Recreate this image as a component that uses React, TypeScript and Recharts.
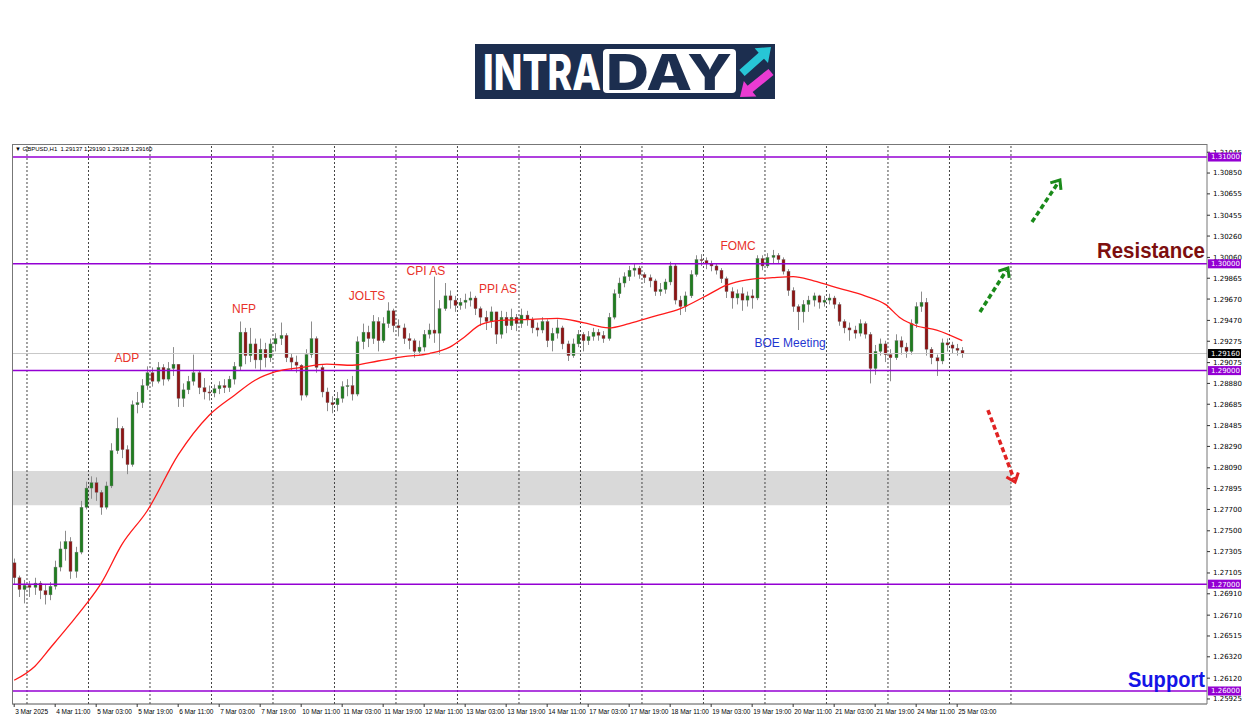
import React from "react";
import {
  ComposedChart,
  Bar,
  Line,
  XAxis,
  YAxis,
  ReferenceLine,
  ReferenceArea,
  ReferenceDot,
} from "recharts";

// GBPUSD H1 shown as 2-hour candles. hour 0 = 4 Mar 00:00, weekends skipped
const FIRST_OPEN = 1.272;

const closes = [
  1.2706, 1.2695, 1.2699, 1.2697, 1.2701, 1.2694, 1.269, 1.2698, 1.2716, 1.2733, 1.274, 1.2712, 1.273, 1.2772, 1.279,
  1.2795, 1.2786, 1.2772, 1.2792, 1.2825, 1.2846, 1.2826, 1.2812, 1.2868, 1.287, 1.2886, 1.2898, 1.289, 1.2903, 1.2892, 1.2902, 1.2906, 1.2874,
  1.2882, 1.289, 1.2898, 1.2884, 1.288, 1.2879, 1.2883, 1.2886, 1.2884, 1.2892, 1.2904, 1.2936, 1.2914, 1.2925, 1.291, 1.292, 1.2912, 1.2925, 1.293, 1.2933, 1.2912, 1.2908, 1.2905, 1.2877, 1.2915, 1.293,
  1.2903, 1.288, 1.287, 1.2868, 1.2874, 1.2885, 1.2886, 1.2878, 1.2927, 1.2936, 1.293, 1.2946, 1.2928, 1.2944, 1.2956, 1.2942, 1.294, 1.293, 1.2928, 1.2918, 1.2922, 1.2934, 1.2938, 1.2935, 1.2958,
  1.297, 1.2966, 1.2961, 1.2964, 1.2966, 1.2968, 1.2958, 1.295, 1.2946, 1.2955, 1.2934, 1.295, 1.2942, 1.295, 1.2944, 1.2952, 1.2948, 1.294, 1.2938, 1.2946, 1.2928, 1.2935, 1.294, 1.2925, 1.2914, 1.2925, 1.2934,
  1.2928, 1.2932, 1.2936, 1.2933, 1.293, 1.295, 1.2972, 1.2982, 1.2988, 1.2994, 1.2996, 1.299, 1.2987, 1.2984, 1.2974, 1.2976, 1.2983, 1.2998, 1.2966, 1.296,
  1.297, 1.299, 1.3004, 1.3003, 1.3, 1.2998, 1.2994, 1.2986, 1.2974, 1.2968, 1.2972, 1.2966, 1.297, 1.2968, 1.3005, 1.2998, 1.3006, 1.3008, 1.3004, 1.2993, 1.2975, 1.296, 1.2955, 1.2962, 1.2966,
  1.297, 1.2964, 1.2966, 1.2968, 1.2962, 1.2946, 1.294, 1.2938, 1.2935, 1.2944, 1.2934, 1.2902, 1.2918, 1.2925, 1.2915, 1.2912, 1.2928, 1.2922, 1.2918, 1.2944, 1.296, 1.2964, 1.292, 1.2912, 1.2909, 1.2926, 1.2924, 1.2921, 1.2919, 1.2916,
];

const highs = [
  1.2724, 1.2708, 1.2704, 1.2703, 1.2706, 1.2703, 1.27, 1.2702, 1.2722, 1.274, 1.275, 1.2744, 1.2735, 1.2778, 1.2796,
  1.2801, 1.28, 1.2788, 1.2796, 1.2832, 1.2856, 1.2848, 1.283, 1.2872, 1.288, 1.2892, 1.2904, 1.2903, 1.2908, 1.2906, 1.2908, 1.2922, 1.2906,
  1.2888, 1.2895, 1.2915, 1.29, 1.2893, 1.2886, 1.2887, 1.289, 1.2892, 1.2895, 1.2908, 1.2946, 1.294, 1.294, 1.293, 1.293, 1.2926, 1.293, 1.2935, 1.2945, 1.2935, 1.2916, 1.2914, 1.2906, 1.292, 1.2946,
  1.2932, 1.2905, 1.2884, 1.2876, 1.288, 1.289, 1.2892, 1.2895, 1.2932, 1.2944, 1.2942, 1.2952, 1.295, 1.295, 1.2964, 1.2958, 1.2948, 1.2944, 1.2935, 1.293, 1.2928, 1.2938, 1.2944, 1.2988, 1.2966,
  1.2982, 1.2975, 1.297, 1.2968, 1.2972, 1.2974, 1.297, 1.296, 1.2956, 1.296, 1.2955, 1.2956, 1.2955, 1.2958, 1.2953, 1.2958, 1.2956, 1.295, 1.2945, 1.295, 1.2948, 1.294, 1.2948, 1.2942, 1.2928, 1.293, 1.2938,
  1.2936, 1.2937, 1.294, 1.2939, 1.2937, 1.2954, 1.2976, 1.2987, 1.2992, 1.2998, 1.3, 1.2998, 1.2992, 1.299, 1.2986, 1.2982, 1.2986, 1.3002, 1.3, 1.297,
  1.2974, 1.2994, 1.3008, 1.3009, 1.3006, 1.3003, 1.3, 1.2996, 1.2988, 1.2978, 1.2976, 1.2978, 1.2974, 1.2976, 1.3008, 1.3008, 1.301, 1.3013, 1.301, 1.3006, 1.2995, 1.2978, 1.2962, 1.2966, 1.297,
  1.2973, 1.2971, 1.297, 1.2972, 1.297, 1.2964, 1.2948, 1.2945, 1.2942, 1.2948, 1.2946, 1.2936, 1.2924, 1.293, 1.2928, 1.292, 1.2934, 1.2932, 1.2926, 1.2948, 1.2964, 1.2974, 1.2968, 1.2922, 1.2915, 1.293, 1.293, 1.2927, 1.2925, 1.2922,
];

const lows = [
  1.27, 1.2688, 1.2682, 1.2688, 1.269, 1.2686, 1.2681, 1.2685, 1.2695, 1.2712, 1.2722, 1.2705, 1.2706, 1.2728, 1.277,
  1.278, 1.2778, 1.2765, 1.277, 1.279, 1.2822, 1.2818, 1.2803, 1.281, 1.286, 1.2865, 1.2882, 1.2885, 1.2888, 1.2886, 1.289, 1.2895, 1.2866,
  1.2866, 1.2878, 1.2886, 1.2878, 1.2873, 1.2872, 1.2875, 1.2878, 1.2879, 1.288, 1.2887, 1.29, 1.2906, 1.2908, 1.2902, 1.29, 1.2903, 1.2908, 1.2918, 1.2924, 1.2908, 1.29, 1.2898, 1.2872, 1.2875, 1.2912,
  1.2898, 1.2875, 1.2862, 1.286, 1.2862, 1.287, 1.2876, 1.2872, 1.2876, 1.292, 1.2922, 1.2925, 1.2918, 1.2926, 1.294, 1.2936, 1.2932, 1.2925, 1.292, 1.2912, 1.2915, 1.2918, 1.293, 1.2926, 1.2915,
  1.2956, 1.2958, 1.2955, 1.2957, 1.2958, 1.296, 1.2952, 1.2942, 1.2938, 1.294, 1.2925, 1.293, 1.2935, 1.2938, 1.2937, 1.294, 1.2942, 1.2935, 1.2932, 1.2935, 1.2922, 1.2918, 1.293, 1.292, 1.2909, 1.2912, 1.2922,
  1.2918, 1.2924, 1.2928, 1.2928, 1.2926, 1.2928, 1.2948, 1.2968, 1.2978, 1.2984, 1.2988, 1.2986, 1.2982, 1.2978, 1.297, 1.297, 1.2972, 1.298, 1.2962, 1.2952,
  1.2955, 1.2968, 1.2988, 1.2998, 1.2995, 1.2993, 1.299, 1.2982, 1.2968, 1.2958, 1.2962, 1.2956, 1.296, 1.2958, 1.2966, 1.2994, 1.2996, 1.3, 1.3, 1.299, 1.297, 1.2955, 1.2938, 1.2945, 1.2955,
  1.296, 1.2958, 1.296, 1.2962, 1.2958, 1.2942, 1.2935, 1.2928, 1.293, 1.2932, 1.293, 1.2888, 1.2896, 1.2914, 1.2908, 1.289, 1.291, 1.2915, 1.2912, 1.2915, 1.294, 1.2955, 1.2914, 1.2906, 1.2895, 1.2906, 1.2918, 1.2916, 1.2914, 1.2912,
];

// red moving average, read at a few points
const maHours = [-5, 3, 9, 17, 23, 29, 37, 47, 59, 71, 81, 89, 97, 107, 117, 127, 137, 147, 157, 165, 171, 177, 185, 197, 207, 217, 227, 235, 245, 255, 265, 273, 281, 291, 299, 307, 317, 327, 335, 341, 347, 355, 365];
const maValues = [
  1.261, 1.2623, 1.264, 1.2663, 1.2681, 1.2701, 1.2737, 1.2769, 1.2821, 1.2858, 1.2877, 1.2891, 1.2899, 1.2903, 1.2906, 1.2905, 1.2909, 1.2913, 1.2916, 1.2922, 1.2932, 1.2943,
  1.2947, 1.2948, 1.2949, 1.2945, 1.294, 1.2944, 1.2951, 1.2958, 1.297, 1.298, 1.2985, 1.2987, 1.2988, 1.2984, 1.2977, 1.297, 1.2962, 1.2949, 1.2942, 1.2938, 1.2928,
];

const dayStarts = [0, 24, 48, 72, 96, 120, 144, 168, 192, 216, 240, 264, 288, 312, 336, 360, 384];
const tickHours = [-5, 11, 27, 43, 59, 75, 91, 107, 123, 139, 155, 171, 187, 203, 219, 235, 251, 267, 283, 299, 315, 331, 347, 363];
const tickLabels = [
  "3 Mar 2025", "4 Mar 11:00", "5 Mar 03:00", "5 Mar 19:00", "6 Mar 11:00", "7 Mar 03:00", "7 Mar 19:00", "10 Mar 11:00",
  "11 Mar 03:00", "11 Mar 19:00", "12 Mar 11:00", "13 Mar 03:00", "13 Mar 19:00", "14 Mar 11:00", "17 Mar 03:00", "17 Mar 19:00",
  "18 Mar 11:00", "19 Mar 03:00", "19 Mar 19:00", "20 Mar 11:00", "21 Mar 03:00", "21 Mar 19:00", "24 Mar 11:00", "25 Mar 03:00",
];
const priceTicks = [
  1.31045, 1.3085, 1.30655, 1.30455, 1.3026, 1.3006, 1.29865, 1.2967, 1.2947, 1.29275, 1.29075, 1.2888, 1.28685, 1.28485, 1.2829,
  1.2809, 1.27895, 1.277, 1.275, 1.27305, 1.27105, 1.2691, 1.2671, 1.26515, 1.2632, 1.2612, 1.25925,
  1.31, 1.3, 1.29, 1.27, 1.26, 1.2916,
];
const levels = [1.31, 1.3, 1.29, 1.27, 1.26];
const lastPrice = 1.2916;
const zoneLow = 1.2774;
const zoneHigh = 1.2806;

const events = [
  { text: "ADP", h: 39, price: 1.29118, color: "#e8322a" },
  { text: "NFP", h: 84.7, price: 1.29577, color: "#e8322a" },
  { text: "JOLTS", h: 132.7, price: 1.29699, color: "#e8322a" },
  { text: "CPI AS", h: 155.7, price: 1.29933, color: "#e8322a" },
  { text: "PPI AS", h: 183.8, price: 1.29764, color: "#e8322a" },
  { text: "FOMC", h: 277.5, price: 1.30167, color: "#e8322a" },
  { text: "BOE Meeting", h: 297.8, price: 1.29258, color: "#1f36d0" },
];

const arrows = [
  { from: [371.9, 1.29549], to: [382.8, 1.29961], color: "#1a8a1a" },
  { from: [392.2, 1.30391], to: [403.1, 1.30785], color: "#1a8a1a" },
  { from: [375.0, 1.28631], to: [385.6, 1.27957], color: "#e02222" },
];

const X_DOMAIN = [-5.85, 460.5];
const Y_DOMAIN = [1.25878, 1.31122];
const PLOT_LEFT = 12;
const PLOT_TOP = 144;
const PLOT_RIGHT = 1207;
const PLOT_BOTTOM = 704;

const rows = closes.map((c, i) => {
  const h = -5 + 2 * i;
  const k = maHours.indexOf(h);
  return {
    h,
    open: i === 0 ? FIRST_OPEN : closes[i - 1],
    close: c,
    high: highs[i],
    low: lows[i],
    ma: k >= 0 ? maValues[k] : null,
  };
});

const Candle = (props: any) => {
  const { x, y, width, height, payload } = props;
  if (!payload) return null;
  const { open, close, high, low } = payload;
  const top = Math.min(y, y + height);
  const span = Math.abs(height);
  const k = span / (high - low || 1e-9);
  const bTop = top + (high - Math.max(open, close)) * k;
  const bBot = top + (high - Math.min(open, close)) * k;
  const cx = Math.round(x + width / 2) + 0.5;
  const up = close >= open;
  return (
    <g>
      <line x1={cx} x2={cx} y1={top} y2={top + span} stroke="#8c8c8c" strokeWidth={1} />
      <rect
        x={cx - 1.5}
        y={bTop}
        width={3}
        height={Math.max(1, bBot - bTop)}
        fill={up ? "#1f7d1f" : "#8e1414"}
        stroke="#777"
        strokeWidth={0.4}
      />
    </g>
  );
};

const XTick = (props: any) => {
  const { x, payload } = props;
  const label = tickLabels[tickHours.indexOf(payload.value)];
  return (
    <g>
      <line x1={x} x2={x} y1={PLOT_BOTTOM} y2={PLOT_BOTTOM + 3} stroke="#333" />
      <text x={x + 1} y={PLOT_BOTTOM + 10} fontSize={6.5} fontFamily="Liberation Sans, Arial" fill="#000" textAnchor="start">
        {label}
      </text>
    </g>
  );
};

const YTick = (props: any) => {
  const { y, payload } = props;
  const v: number = payload.value;
  const label = v.toFixed(5);
  const isLast = label === lastPrice.toFixed(5);
  const isLevel = levels.some((l) => l.toFixed(5) === label);
  if (isLast || isLevel) {
    return (
      <g>
        <rect x={PLOT_RIGHT + 1} y={y - 4.5} width={33} height={9} fill={isLast ? "#000" : "#9400d3"} />
        <text x={PLOT_RIGHT + 4} y={y} dy="0.35em" fontSize={7} fontFamily="DejaVu Sans" fill="#fff">
          {label}
        </text>
      </g>
    );
  }
  return (
    <g>
      <line x1={PLOT_RIGHT} x2={PLOT_RIGHT + 3} y1={y} y2={y} stroke="#333" />
      <text x={PLOT_RIGHT + 6} y={y} dy="0.35em" fontSize={7} fontFamily="DejaVu Sans" fill="#000">
        {label}
      </text>
    </g>
  );
};

const textLabel =
  (text: string, color: string, size: number, weight: string | number, anchor: string, len?: number) =>
  (props: any) => {
    const vb = props.viewBox || {};
    const x = (vb.x ?? 0) + (vb.width ?? 0) / 2;
    const y = (vb.y ?? 0) + (vb.height ?? 0) / 2;
    return (
      <text
        x={x}
        y={y}
        dy="0.35em"
        textAnchor={anchor}
        fill={color}
        fontSize={size}
        fontWeight={weight}
        fontFamily="Liberation Sans, Arial, sans-serif"
        textLength={len}
        lengthAdjust={len ? "spacingAndGlyphs" : undefined}
      >
        {text}
      </text>
    );
  };

const arrowShape = (color: string) => (p: any) => {
  const { x1, y1, x2, y2 } = p;
  if ([x1, y1, x2, y2].some((v) => typeof v !== "number")) return null;
  const ang = Math.atan2(y2 - y1, x2 - x1);
  const hl = 10;
  const a1 = ang + Math.PI * 0.78;
  const a2 = ang - Math.PI * 0.78;
  return (
    <g>
      <line
        x1={x1}
        y1={y1}
        x2={x2 - Math.cos(ang) * 3}
        y2={y2 - Math.sin(ang) * 3}
        stroke={color}
        strokeWidth={3.5}
        strokeDasharray="5 3"
      />
      <polyline
        points={`${x2 + hl * Math.cos(a1)},${y2 + hl * Math.sin(a1)} ${x2},${y2} ${x2 + hl * Math.cos(a2)},${y2 + hl * Math.sin(a2)}`}
        fill="none"
        stroke={color}
        strokeWidth={3}
      />
    </g>
  );
};

function arrowPts(tx: number, ty: number, hx: number, hy: number, sw: number, hw: number, hl: number) {
  const dx = hx - tx;
  const dy = hy - ty;
  const L = Math.hypot(dx, dy);
  const ux = dx / L;
  const uy = dy / L;
  const px = -uy;
  const py = ux;
  const bx = hx - ux * hl;
  const by = hy - uy * hl;
  const pts = [
    [tx + (px * sw) / 2, ty + (py * sw) / 2],
    [bx + (px * sw) / 2, by + (py * sw) / 2],
    [bx + (px * hw) / 2, by + (py * hw) / 2],
    [hx, hy],
    [bx - (px * hw) / 2, by - (py * hw) / 2],
    [bx - (px * sw) / 2, by - (py * sw) / 2],
    [tx - (px * sw) / 2, ty - (py * sw) / 2],
  ];
  return pts.map((q) => q.join(",")).join(" ");
}

// logo drawn 12px lower inside a taller svg so the glyph boxes stay inside
function Logo() {
  const navy = "#1c2e4f";
  const o = 12;
  return (
    <svg style={{ position: "absolute", left: 475, top: 44 - o }} width={300} height={55 + 2 * o}>
      <rect y={o} width={300} height={55} fill={navy} />
      <text
        transform={`translate(8,${46 + o}) scale(1,1.27)`}
        fill="#fff"
        fontFamily="Inter, sans-serif"
        fontWeight={800}
        fontSize={39}
        textLength={118}
        lengthAdjust="spacingAndGlyphs"
      >
        INTRA
      </text>
      <rect x={128} y={5 + o} width={133} height={44} rx={4} fill="#fff" />
      <text
        transform={`translate(131,${46 + o}) scale(1,1.27)`}
        fill={navy}
        fontFamily="Inter, sans-serif"
        fontWeight={800}
        fontSize={39}
        textLength={126}
        lengthAdjust="spacingAndGlyphs"
      >
        DAY
      </text>
      <polygon points={arrowPts(267, 29 + o, 296, 3 + o, 8, 20, 13)} fill="#27c6d6" />
      <polygon points={arrowPts(296, 28 + o, 265, 53 + o, 8, 20, 13)} fill="#ea3bd3" />
    </svg>
  );
}

export default function App() {
  return (
    <div style={{ position: "relative", width: 1250, height: 716, background: "#fff", overflow: "hidden" }}>
      <style>{"body{margin:0}"}</style>
      <Logo />
      <ComposedChart
        width={1250}
        height={716}
        data={rows}
        margin={{ top: PLOT_TOP, right: 0, bottom: 0, left: PLOT_LEFT }}
        style={{ position: "absolute", left: 0, top: 0 }}
      >
        <XAxis
          dataKey="h"
          type="number"
          domain={X_DOMAIN}
          ticks={tickHours}
          interval={0}
          height={12}
          tick={<XTick />}
          tickLine={false}
          axisLine={{ stroke: "#555" }}
          allowDataOverflow
        />
        <YAxis
          orientation="right"
          type="number"
          domain={Y_DOMAIN}
          ticks={priceTicks}
          interval={0}
          width={43}
          tick={<YTick />}
          tickLine={false}
          axisLine={{ stroke: "#777" }}
          allowDataOverflow
        />
        <ReferenceArea x1={X_DOMAIN[0]} x2={384} y1={zoneLow} y2={zoneHigh} fill="#d9d9d9" fillOpacity={1} stroke="none" />
        {dayStarts.map((d) => (
          <ReferenceLine key={"d" + d} x={d} stroke="#444" strokeDasharray="2 2" strokeWidth={1} />
        ))}
        <ReferenceLine y={lastPrice} stroke="#c8c8c8" strokeWidth={1} />
        {levels.map((l) => (
          <ReferenceLine key={"l" + l} y={l} stroke="#9400d3" strokeWidth={1.5} />
        ))}
        <Bar dataKey={(d: any) => [d.low, d.high]} barSize={3} shape={<Candle />} isAnimationActive={false} />
        <Line
          dataKey="ma"
          type="monotone"
          stroke="#ff1a1a"
          strokeWidth={1.3}
          dot={false}
          connectNulls
          isAnimationActive={false}
        />
        {events.map((e) => (
          <ReferenceDot
            key={e.text}
            x={e.h}
            y={e.price}
            r={1}
            fill="none"
            stroke="none"
            label={{ content: textLabel(e.text, e.color, 12, "normal", "middle") }}
          />
        ))}
        <ReferenceDot
          x={459.7}
          y={1.30129}
          r={1}
          fill="none"
          stroke="none"
          label={{ content: textLabel("Resistance", "#7d0f0f", 22, "bold", "end", 108) }}
        />
        <ReferenceDot
          x={459.7}
          y={1.26112}
          r={1}
          fill="none"
          stroke="none"
          label={{ content: textLabel("Support", "#1414e6", 22, "bold", "end", 77) }}
        />
        {arrows.map((a, i) => (
          <ReferenceLine
            key={"a" + i}
            segment={[
              { x: a.from[0], y: a.from[1] },
              { x: a.to[0], y: a.to[1] },
            ]}
            stroke={a.color}
            shape={arrowShape(a.color)}
          />
        ))}
      </ComposedChart>
      <div
        style={{
          position: "absolute",
          left: PLOT_LEFT,
          top: PLOT_TOP,
          width: PLOT_RIGHT - PLOT_LEFT,
          height: PLOT_BOTTOM - PLOT_TOP,
          borderLeft: "1px solid #777",
          borderTop: "1px solid #777",
          boxSizing: "border-box",
          pointerEvents: "none",
        }}
      />
      <div
        style={{
          position: "absolute",
          left: 15,
          top: 146,
          fontSize: 6,
          fontFamily: "Liberation Sans, Arial",
          color: "#000",
          whiteSpace: "pre",
        }}
      >
        {"▼ GBPUSD,H1  1.29137 1.29190 1.29128 1.29160"}
      </div>
    </div>
  );
}
